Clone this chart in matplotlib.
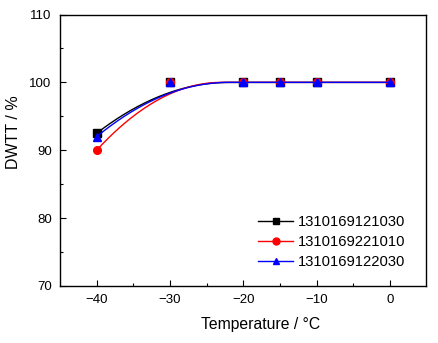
import numpy as np
import matplotlib.pyplot as plt

plt.rcParams['font.family'] = ['Liberation Sans', 'DejaVu Sans']

temps = [-40, -30, -20, -15, -10, 0]
labels = ['1310169121030', '1310169221010', '1310169122030']
dwtt_black = [92.5, 100, 100, 100, 100, 100]
dwtt_red = [90, 100, 100, 100, 100, 100]
dwtt_blue = [92, 100, 100, 100, 100, 100]
colors = ['black', 'red', 'blue']
markers = ['s', 'o', '^']
# fitted curve: rises from the -40 value to the upper shelf, reaching it after `fit_span` degrees
fit_shelf = [100, 100, 100]
fit_span = [18, 17, 18]

fig = plt.figure(figsize=(4.39, 3.43), dpi=100)
ax = fig.add_axes([0.1367, 0.1662, 0.8348, 0.7915])

xs = np.linspace(-40, 0, 300)
for ys, c, m, lab, p, L in zip([dwtt_black, dwtt_red, dwtt_blue], colors, markers,
                               labels, fit_shelf, fit_span):
    u = np.clip(1 - (xs - temps[0]) / L, 0, None)
    fit = p - (p - ys[0]) * u ** 2
    ax.plot(xs, fit, color=c, lw=1.0)
    ax.plot(temps, ys, ls='none', marker=m, color=c, ms=5.5)
    ax.plot([], [], color=c, marker=m, ms=5, lw=1.0, label=lab)

ax.set_xlim(-45, 5)
ax.set_ylim(70, 110)
ax.set_xticks([-40, -30, -20, -10, 0])
ax.set_xticks([-35, -25, -15, -5], minor=True)
ax.set_yticks([70, 80, 90, 100, 110])
ax.set_yticks([75, 85, 95, 105], minor=True)
ax.tick_params(direction='in', labelsize=9.5, length=4, width=0.8, pad=6)
ax.tick_params(which='minor', direction='in', length=2, width=0.8)
for s in ax.spines.values():
    s.set_linewidth(1.0)
ax.set_xlabel('Temperature / \u00b0C', fontsize=11.3)
ax.set_ylabel('DWTT / %', fontsize=11.5)
ax.xaxis.set_label_coords(0.546, -0.115)
ax.yaxis.set_label_coords(-0.107, 0.568)

leg = ax.legend(loc='lower right', frameon=False, fontsize=10.6, handlelength=2.4,
                handletextpad=0.3, labelspacing=0.42, bbox_to_anchor=(0.978, 0.012))

fig.savefig('out.png', dpi=100)
